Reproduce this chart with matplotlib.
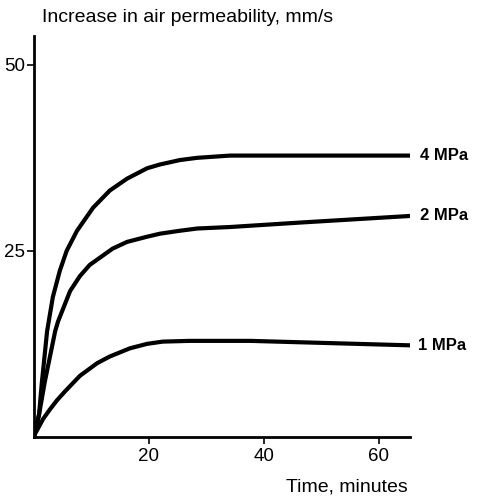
import matplotlib
matplotlib.use("Agg")
import matplotlib.pyplot as plt

plt.rcParams['font.family'] = ['Liberation Sans', 'DejaVu Sans']

# time (min) vs increase in air permeability (mm/s)
t_4 = [0, 0.9, 1.4, 2.3, 3.3, 4.5, 5.7, 7.5, 10.3, 13.2, 16.2, 19.7, 21.9, 25.4, 28.4, 34.1, 46.3, 65.7]
y_4 = [0, 3.0, 7.4, 14.2, 18.8, 22.3, 25.0, 27.7, 30.8, 33.1, 34.7, 36.1, 36.6, 37.2, 37.5, 37.8, 37.8, 37.8]

t_2 = [0, 0.9, 1.9, 3.7, 4.2, 6.3, 8.0, 9.7, 13.7, 16.2, 19.7, 21.9, 25.4, 28.4, 34.1, 46.3, 65.7]
y_2 = [0, 3.0, 7.4, 14.2, 15.5, 19.6, 21.6, 23.1, 25.3, 26.2, 26.9, 27.3, 27.7, 28.0, 28.2, 28.8, 29.7]

t_1 = [0, 0.2, 1.6, 2.8, 4.0, 5.4, 8.0, 11.0, 13.2, 16.7, 19.7, 22.4, 27.1, 37.6, 51.5, 65.4]
y_1 = [0, 0.4, 2.4, 3.7, 4.9, 6.1, 8.2, 9.9, 10.8, 11.9, 12.5, 12.8, 12.9, 12.9, 12.6, 12.3]

series = [(t_4, y_4, '4 MPa'), (t_2, y_2, '2 MPa'), (t_1, y_1, '1 MPa')]

x_ticks = [20, 40, 60]
y_ticks = [25, 50]

fig = plt.figure(figsize=(4.84, 4.97), dpi=100)
ax = fig.add_axes([0.070, 0.121, 0.777, 0.807])

for t, y, lab in series:
    ax.plot(t, y, color='black', lw=3.0, solid_capstyle='round', solid_joinstyle='round')
    ax.text(t[-1] + 1.4, y[-1], lab, fontsize=12, fontweight='bold',
            ha='left', va='center')

ax.set_xlim(0, 65.4)
ax.set_ylim(0, 53.9)
ax.set_xticks(x_ticks)
ax.set_yticks(y_ticks)
ax.tick_params(labelsize=13.5, length=5, width=1.2)
ax.tick_params(axis='x', pad=3)
ax.tick_params(axis='y', pad=1.5)

for s in ['top', 'right']:
    ax.spines[s].set_visible(False)
for s in ['left', 'bottom']:
    ax.spines[s].set_linewidth(2.0)

fig.text(42 / 484, 1 - 17 / 497, 'Increase in air permeability, mm/s',
         fontsize=14, ha='left', va='center')
fig.text(408 / 484, 1 - 487 / 497, 'Time, minutes',
         fontsize=14, ha='right', va='center')

fig.savefig('out.png', dpi=100)
